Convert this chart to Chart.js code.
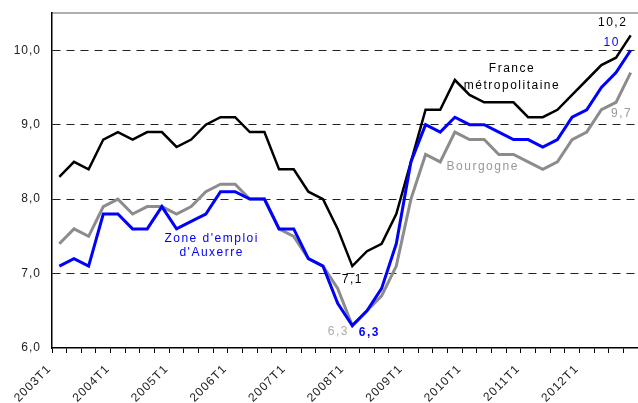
<!DOCTYPE html>
<html>
<head>
<meta charset="utf-8">
<script src="https://cdn.jsdelivr.net/npm/chart.js@4/dist/chart.umd.min.js"></script>
<style>
  html, body { margin: 0; padding: 0; background: #fff; }
  #wrap { width: 638px; height: 403px; }
</style>
</head>
<body>
<div id="wrap"><canvas id="chomage"></canvas></div>
<script>
// Taux de chômage trimestriel, 2003T1 - 2012T4
const annees = [2003, 2004, 2005, 2006, 2007, 2008, 2009, 2010, 2011, 2012];
const trimestres = annees.flatMap(a => [a + 'T1', a + 'T2', a + 'T3', a + 'T4']);

const franceMetro = [8.3, 8.5, 8.4, 8.8, 8.9, 8.8, 8.9, 8.9, 8.7, 8.8, 9.0, 9.1,
  9.1, 8.9, 8.9, 8.4, 8.4, 8.1, 8.0, 7.6, 7.1, 7.3, 7.4, 7.8,
  8.5, 9.2, 9.2, 9.6, 9.4, 9.3, 9.3, 9.3, 9.1, 9.1, 9.2, 9.4,
  9.6, 9.8, 9.9, 10.2];
const auxerre = [7.1, 7.2, 7.1, 7.8, 7.8, 7.6, 7.6, 7.9, 7.6, 7.7, 7.8, 8.1,
  8.1, 8.0, 8.0, 7.6, 7.6, 7.2, 7.1, 6.6, 6.3, 6.5, 6.8, 7.4,
  8.5, 9.0, 8.9, 9.1, 9.0, 9.0, 8.9, 8.8, 8.8, 8.7, 8.8, 9.1,
  9.2, 9.5, 9.7, 10.0];
const bourgogne = [7.4, 7.6, 7.5, 7.9, 8.0, 7.8, 7.9, 7.9, 7.8, 7.9, 8.1, 8.2,
  8.2, 8.0, 8.0, 7.6, 7.5, 7.2, 7.1, 6.8, 6.3, 6.5, 6.7, 7.1,
  8.0, 8.6, 8.5, 8.9, 8.8, 8.8, 8.6, 8.6, 8.5, 8.4, 8.5, 8.8,
  8.9, 9.2, 9.3, 9.7];

const yTicks = [6, 7, 8, 9, 10];

// Textes posés sur le graphique (index du trimestre, valeur, décalage en px)
const etiquettes = [
  { txt: '10,2', i: 39, v: 10.2, dx: -18, dy: -13, color: '#000', bold: false },
  { txt: '10', i: 39, v: 10.0, dx: -19, dy: -8, color: '#0000ff', bold: false },
  { txt: '9,7', i: 39, v: 9.7, dx: -9, dy: 41, color: '#999', bold: false },
  { txt: '7,1', i: 20, v: 7.1, dx: 0, dy: 14, color: '#000', bold: false },
  { txt: '6,3', i: 20, v: 6.3, dx: -14, dy: 6, color: '#aaa', bold: false },
  { txt: '6,3', i: 20, v: 6.3, dx: 17, dy: 7, color: '#0000ff', bold: true },
  { txt: 'France', i: 30.9, v: 9.75, dx: 0, dy: 0, color: '#000', bold: false },
  { txt: 'métropolitaine', i: 30.9, v: 9.53, dx: 0, dy: 0, color: '#000', bold: false },
  { txt: 'Bourgogne', i: 28.9, v: 8.43, dx: 0, dy: 0, color: '#999', bold: false },
  { txt: "Zone d'emploi", i: 10.4, v: 7.47, dx: 0, dy: 0, color: '#0000ff', bold: false },
  { txt: "d'Auxerre", i: 10.4, v: 7.28, dx: 0, dy: 0, color: '#0000ff', bold: false }
];

const espacement = {
  id: 'espacement',
  beforeDraw(chart) {
    chart.ctx.letterSpacing = '1px';
  }
};

const textes = {
  id: 'textes',
  afterDatasetsDraw(chart) {
    const { ctx, scales } = chart;
    ctx.save();
    ctx.letterSpacing = '1.5px';
    ctx.textAlign = 'center';
    ctx.textBaseline = 'middle';
    etiquettes.forEach(e => {
      const x = scales.x.getPixelForValue(e.i) + e.dx;
      const y = scales.y.getPixelForValue(e.v) + e.dy;
      ctx.font = (e.bold ? 'bold ' : '') + '12px "Liberation Sans", Arial, sans-serif';
      ctx.fillStyle = e.color;
      ctx.fillText(e.txt, x, y);
    });
    ctx.restore();
  }
};

new Chart(document.getElementById('chomage').getContext('2d'), {
  type: 'line',
  data: {
    labels: trimestres,
    datasets: [
      { label: "Zone d'emploi d'Auxerre", data: auxerre, borderColor: '#0000ff', borderWidth: 3 },
      { label: 'Bourgogne', data: bourgogne, borderColor: '#8c8c8c', borderWidth: 3 },
      { label: 'France métropolitaine', data: franceMetro, borderColor: '#000000', borderWidth: 2.5 }
    ]
  },
  options: {
    responsive: true,
    maintainAspectRatio: false,
    animation: false,
    devicePixelRatio: 1,
    layout: { padding: { top: 13, right: 0, left: 0, bottom: 0 } },
    elements: {
      point: { radius: 0 },
      line: { tension: 0, borderJoinStyle: 'miter', borderCapStyle: 'butt' }
    },
    plugins: {
      legend: { display: false },
      tooltip: { enabled: false }
    },
    scales: {
      x: {
        offset: true,
        grid: {
          offset: true,
          drawOnChartArea: false,
          drawTicks: true,
          tickLength: 5,
          tickColor: '#000',
          tickWidth: 1
        },
        border: { display: true, color: '#000', width: 1.5 },
        ticks: {
          autoSkip: false,
          maxRotation: 45,
          minRotation: 45,
          labelOffset: -10,
          padding: 9,
          color: '#222',
          font: { family: '"Liberation Sans", Arial, sans-serif', size: 12 },
          callback: function(value, index) {
            return index % 4 === 0 ? trimestres[index] : '';
          }
        },
        afterFit: function(scale) {
          scale.height = 55;
          scale.paddingRight = 0;
          scale.paddingLeft = 0;
        }
      },
      // axe du haut, seulement pour le trait gris du cadre
      xHaut: {
        type: 'category',
        labels: trimestres,
        position: 'top',
        offset: true,
        grid: { display: false, drawTicks: false },
        border: { display: true, color: '#b0b0b0', width: 2 },
        ticks: { display: false },
        afterFit: function(scale) {
          scale.height = 0;
          scale.paddingRight = 0;
          scale.paddingLeft = 0;
        }
      },
      y: {
        min: 6,
        max: 10.5,
        afterBuildTicks: function(scale) {
          scale.ticks = yTicks.map(v => ({ value: v }));
        },
        grid: {
          drawTicks: false,
          color: function(context) {
            return context.tick && context.tick.value === 6 ? 'rgba(0,0,0,0)' : '#222';
          },
          lineWidth: 1
        },
        border: { display: true, color: '#000', width: 1.5, dash: [8, 6] },
        ticks: {
          padding: 11,
          color: '#222',
          font: { family: '"Liberation Sans", Arial, sans-serif', size: 12 },
          callback: function(value) {
            return value.toFixed(1).replace('.', ',');
          }
        },
        afterFit: function(scale) {
          scale.width = 52;
          scale.paddingTop = 0;
          scale.paddingBottom = 0;
        }
      }
    }
  },
  plugins: [espacement, textes]
});
</script>
</body>
</html>
